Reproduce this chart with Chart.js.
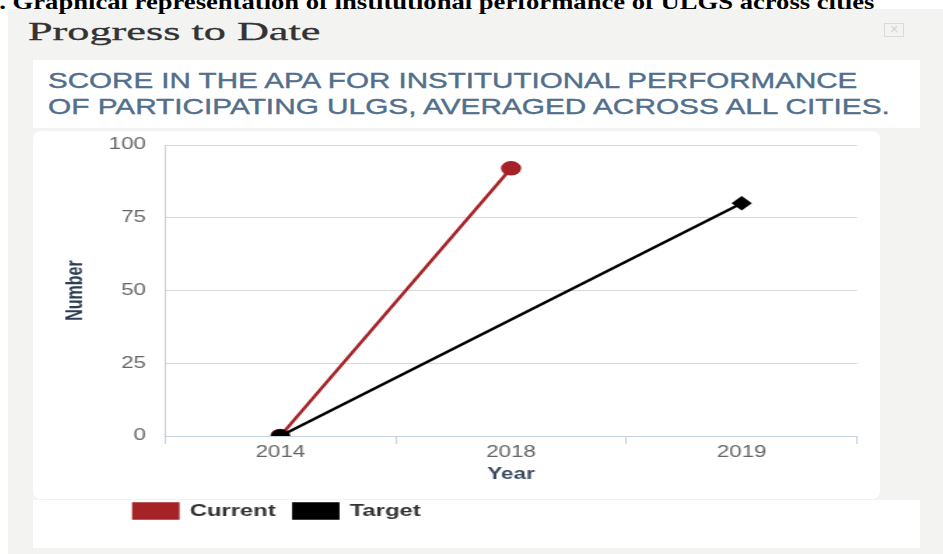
<!DOCTYPE html>
<html>
<head>
<meta charset="utf-8">
<script src="https://cdn.jsdelivr.net/npm/chart.js@4"></script>
<style>
  html, body { margin: 0; padding: 0; background: #fff; width: 943px; height: 554px; overflow: hidden; }
  #bg { position: absolute; left: 8px; top: 9px; right: 0; bottom: 0; background: #f3f3f1; }
  .txt { position: absolute; white-space: nowrap; line-height: 1; transform-origin: 0 0; }
  #head { left: -14px; top: -11px; font: bold 22px 'Liberation Serif', serif; color: #000; z-index: 5; }
  #ptitle { left: 28px; top: 18px; font: 25px 'Liberation Serif', serif; color: #333; -webkit-text-stroke: 0.3px #333; }
  #close { position: absolute; left: 884px; top: 23px; width: 18px; height: 12px; border: 1px solid #dadada;
           color: #d2d2d2; font: 11px 'DejaVu Sans', sans-serif; line-height: 12px; text-align: center; }
  #subPanel { position: absolute; left: 33px; top: 60px; width: 887px; height: 68px; background: #fff; }
  .sub { font: 22px 'Liberation Sans', Arial, sans-serif; color: #526f8c; -webkit-text-stroke: 0.4px #526f8c; }
  #sub1 { left: 48px; top: 68px; }
  #sub2 { left: 48px; top: 94px; }
  #chartPanel { position: absolute; left: 33px; top: 131px; width: 847px; height: 368px; background: #fff; border-radius: 8px; }
  #legendPanel { position: absolute; left: 33px; top: 500px; width: 887px; height: 48px; background: #fff; }
  #chart { position: absolute; left: 33px; top: 130px; transform: scaleX(1.4); transform-origin: 0 0; }
</style>
</head>
<body>
<div id="bg"></div>
<div class="txt" id="head" data-w="889">3. Graphical representation of institutional performance of ULGS across cities</div>
<div class="txt" id="ptitle" data-w="292">Progress to Date</div>
<div id="close">✕</div>
<div id="subPanel"></div>
<div class="txt sub" id="sub1" data-w="809">SCORE IN THE APA FOR INSTITUTIONAL PERFORMANCE</div>
<div class="txt sub" id="sub2" data-w="842">OF PARTICIPATING ULGS, AVERAGED ACROSS ALL CITIES.</div>
<div id="chartPanel"></div>
<div id="legendPanel"></div>
<canvas id="chart" width="634" height="418"></canvas>
<script>
const years = ["2014", "2018", "2019"];
const currentValues = [0, 92, null];
const targetValues = [0, null, 80];
const yTickValues = [0, 25, 50, 75, 100];

// stretch the header texts to the widths seen in the picture
document.querySelectorAll(".txt").forEach((el) => {
  const w = +el.dataset.w;
  el.style.transform = "scaleX(" + (w / el.offsetWidth) + ")";
});

const FONT = "'Liberation Sans', Arial, sans-serif";

// move the legend right so it starts under the plot, like the original
const legendShift = {
  id: "legendShift",
  afterLayout(chart) {
    chart.legend.left += 59;
    chart.legend.right += 59;
  },
};

const data = {
  labels: years,
  datasets: [
    {
      label: "Current",
      data: currentValues,
      borderColor: "#a52327",
      backgroundColor: "#a52327",
      pointBackgroundColor: "#a52327",
      borderWidth: 2.5,
      pointRadius: 6,
      pointStyle: "circle",
      order: 1,
    },
    {
      label: "Target",
      data: targetValues,
      borderColor: "#000000",
      backgroundColor: "#000000",
      pointBackgroundColor: "#000000",
      borderWidth: 2.5,
      pointRadius: 5.5,
      pointStyle: ["circle", "circle", "rectRot"],
      spanGaps: true,
      order: 0,
    },
  ],
};

const config = {
  type: "line",
  data: data,
  plugins: [legendShift],
  options: {
    responsive: false,
    animation: false,
    devicePixelRatio: 1,
    layout: { padding: { top: 15, right: 45.4, left: 0, bottom: 18.5 } },
    plugins: {
      tooltip: { enabled: false },
      legend: {
        position: "bottom",
        align: "start",
        labels: {
          boxWidth: 31.4,
          boxHeight: 15,
          padding: 13,
          color: "#333",
          font: { family: FONT, size: 17, weight: "bold" },
          sort: (a, b) => a.datasetIndex - b.datasetIndex,
        },
      },
    },
    scales: {
      x: {
        offset: true,
        grid: { offset: true, drawOnChartArea: false, tickLength: 8, color: "#c4d2e2" },
        border: { color: "#c4d2e2" },
        ticks: { color: "#666", padding: -1.5, font: { family: FONT, size: 16 } },
        title: {
          display: true,
          text: "Year",
          color: "#3b4a5e",
          font: { family: FONT, size: 16, weight: "bold" },
          padding: { top: 0, bottom: 5.5 },
        },
        afterFit: (s) => { s.height = 53.5; },
      },
      y: {
        min: 0,
        max: 100,
        afterBuildTicks: (s) => { s.ticks = yTickValues.map((v) => ({ value: v })); },
        grid: { color: "#d8d8d8", drawTicks: true, tickLength: 13.6, tickColor: "rgba(0,0,0,0)" },
        border: { color: "#cccccc" },
        ticks: { color: "#666", padding: 0, font: { family: FONT, size: 16 } },
        title: {
          display: true,
          text: "Number",
          color: "#2e3e52",
          font: { family: FONT, size: 16, weight: "bold" },
          padding: { top: 21, bottom: 0 },
        },
        afterFit: (s) => { s.width = 94.3; },
      },
    },
  },
};

new Chart(document.getElementById("chart"), config);
</script>
</body>
</html>
